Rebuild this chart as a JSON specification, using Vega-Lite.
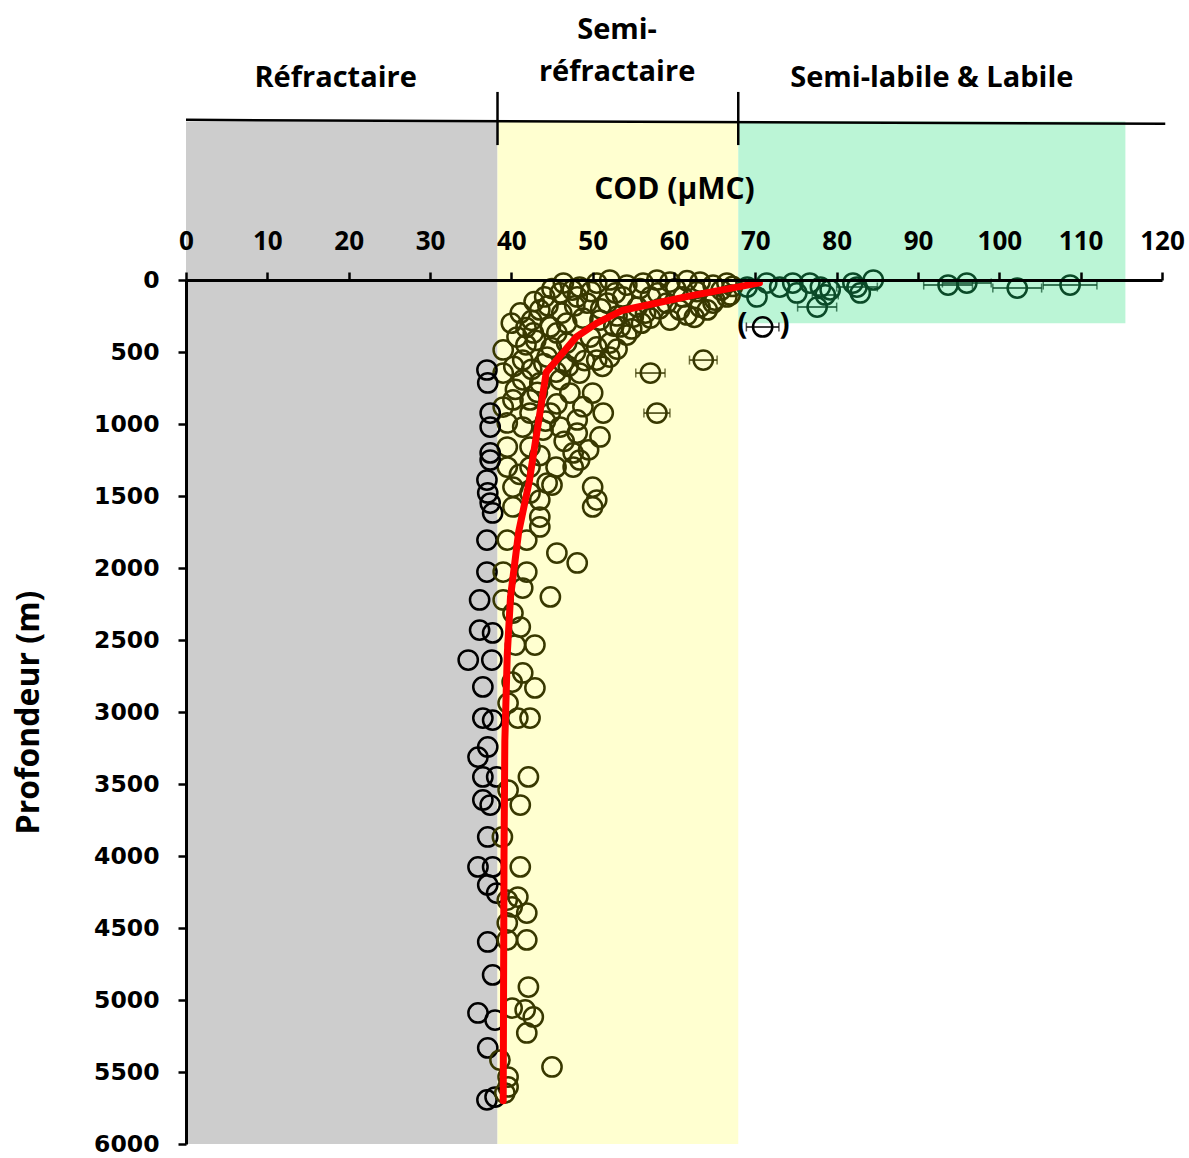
{
  "$schema": "https://vega.github.io/schema/vega-lite/v6.json",
  "width": 976,
  "height": 864,
  "autosize": {"type": "none"},
  "padding": {"left": 186, "top": 280, "right": 27, "bottom": 14},
  "config": {
    "view": {"stroke": null}
  },
  "datasets": {
    "zones": [
      {"x0": 0, "x1": 38.3, "d0": -1100, "d1": 6000, "zone": "R"},
      {"x0": 38.3, "x1": 67.9, "d0": -1100, "d1": 6000, "zone": "S"},
      {"x0": 67.9, "x1": 115.5, "d0": -1100, "d1": 300, "zone": "L"}
    ],
    "header": [
      {"x0": 0, "x1": 120.4, "d0": -1112, "d1": -1085},
      {"x0": 38.3, "x1": 38.3, "d0": -1306, "d1": -937},
      {"x0": 67.9, "x1": 67.9, "d0": -1306, "d1": -937}
    ],
    "labels": [
      {"x": 18.4, "d": -1403, "t": "Réfractaire"},
      {"x": 53.0, "d": -1736, "t": "Semi-"},
      {"x": 53.0, "d": -1444, "t": "réfractaire"},
      {"x": 91.7, "d": -1403, "t": "Semi-labile & Labile"}
    ],
    "parens": [
      {"x": 68.4, "d": 313, "t": "("},
      {"x": 73.6, "d": 313, "t": ")"}
    ],
    "fit": [
      {"i": 1, "x": 70.5, "d": 20},
      {"i": 2, "x": 62.0, "d": 110},
      {"i": 3, "x": 53.7, "d": 210},
      {"i": 4, "x": 50.5, "d": 300},
      {"i": 5, "x": 48.0, "d": 395},
      {"i": 6, "x": 44.3, "d": 640},
      {"i": 7, "x": 43.3, "d": 1000},
      {"i": 8, "x": 42.2, "d": 1400},
      {"i": 9, "x": 40.9, "d": 1750},
      {"i": 10, "x": 39.9, "d": 2200},
      {"i": 11, "x": 39.5, "d": 2600},
      {"i": 12, "x": 39.2, "d": 3200},
      {"i": 13, "x": 39.1, "d": 4000},
      {"i": 14, "x": 39.0, "d": 5700}
    ],
    "err": [
      {"x": 57.1, "d": 646, "lo": 55.3, "hi": 58.9, "zone": "S"},
      {"x": 63.6, "d": 556, "lo": 61.9, "hi": 65.3, "zone": "S"},
      {"x": 57.9, "d": 924, "lo": 56.3, "hi": 59.5, "zone": "S"},
      {"x": 70.9, "d": 326, "lo": 68.9, "hi": 72.9, "zone": "X"},
      {"x": 77.6, "d": 188, "lo": 75.2, "hi": 80.0, "zone": "L"},
      {"x": 82.5, "d": 49, "lo": 80.0, "hi": 85.0, "zone": "L"},
      {"x": 78.6, "d": 104, "lo": 77.0, "hi": 80.2, "zone": "L"},
      {"x": 93.7, "d": 35, "lo": 90.7, "hi": 96.7, "zone": "L"},
      {"x": 96.0, "d": 21, "lo": 93.0, "hi": 99.0, "zone": "L"},
      {"x": 102.2, "d": 56, "lo": 99.2, "hi": 105.2, "zone": "L"},
      {"x": 108.7, "d": 35, "lo": 105.4, "hi": 112.0, "zone": "L"}
    ],
    "pts": [
      {"x": 46.4, "d": 21, "zone": "S"}, {"x": 48.4, "d": 49, "zone": "S"}, {"x": 50.5, "d": 21, "zone": "S"},
      {"x": 52.1, "d": 0, "zone": "S"}, {"x": 54.2, "d": 35, "zone": "S"}, {"x": 56.2, "d": 21, "zone": "S"},
      {"x": 57.9, "d": 0, "zone": "S"}, {"x": 59.5, "d": 14, "zone": "S"}, {"x": 61.6, "d": 5, "zone": "S"},
      {"x": 63.2, "d": 14, "zone": "S"}, {"x": 64.8, "d": 35, "zone": "S"}, {"x": 66.5, "d": 21, "zone": "S"},
      {"x": 45.0, "d": 60, "zone": "S"}, {"x": 47.5, "d": 70, "zone": "S"}, {"x": 60.2, "d": 60, "zone": "S"},
      {"x": 62.8, "d": 80, "zone": "S"}, {"x": 65.8, "d": 70, "zone": "S"}, {"x": 67.2, "d": 45, "zone": "S"},
      {"x": 58.0, "d": 90, "zone": "S"}, {"x": 55.8, "d": 60, "zone": "S"}, {"x": 52.8, "d": 90, "zone": "S"},
      {"x": 49.8, "d": 80, "zone": "S"},
      {"x": 44.1, "d": 118, "zone": "S"}, {"x": 46.0, "d": 90, "zone": "S"}, {"x": 48.1, "d": 118, "zone": "S"},
      {"x": 49.3, "d": 160, "zone": "S"}, {"x": 51.8, "d": 160, "zone": "S"}, {"x": 53.7, "d": 118, "zone": "S"},
      {"x": 55.5, "d": 188, "zone": "S"}, {"x": 57.1, "d": 118, "zone": "S"}, {"x": 59.1, "d": 160, "zone": "S"},
      {"x": 61.1, "d": 118, "zone": "S"}, {"x": 63.2, "d": 188, "zone": "S"}, {"x": 64.8, "d": 160, "zone": "S"},
      {"x": 66.5, "d": 118, "zone": "S"}, {"x": 60.7, "d": 208, "zone": "S"}, {"x": 65.0, "d": 139, "zone": "S"},
      {"x": 66.9, "d": 104, "zone": "S"}, {"x": 44.5, "d": 180, "zone": "S"}, {"x": 42.5, "d": 280, "zone": "S"},
      {"x": 56.5, "d": 230, "zone": "S"}, {"x": 62.5, "d": 260, "zone": "S"},
      {"x": 41.1, "d": 229, "zone": "S"}, {"x": 43.5, "d": 208, "zone": "S"}, {"x": 44.8, "d": 326, "zone": "S"},
      {"x": 46.8, "d": 299, "zone": "S"}, {"x": 48.8, "d": 264, "zone": "S"}, {"x": 50.9, "d": 278, "zone": "S"},
      {"x": 53.4, "d": 326, "zone": "S"}, {"x": 55.0, "d": 257, "zone": "S"}, {"x": 57.1, "d": 264, "zone": "S"},
      {"x": 59.5, "d": 278, "zone": "S"}, {"x": 61.6, "d": 243, "zone": "S"}, {"x": 64.1, "d": 208, "zone": "S"},
      {"x": 40.7, "d": 396, "zone": "S"}, {"x": 42.7, "d": 368, "zone": "S"}, {"x": 45.6, "d": 368, "zone": "S"},
      {"x": 46.8, "d": 438, "zone": "S"}, {"x": 49.7, "d": 396, "zone": "S"}, {"x": 52.1, "d": 438, "zone": "S"},
      {"x": 54.2, "d": 382, "zone": "S"}, {"x": 50.5, "d": 465, "zone": "S"},
      {"x": 40.0, "d": 300, "zone": "S"}, {"x": 41.8, "d": 330, "zone": "S"}, {"x": 43.0, "d": 420, "zone": "S"},
      {"x": 44.9, "d": 470, "zone": "S"}, {"x": 47.9, "d": 500, "zone": "S"}, {"x": 49.0, "d": 560, "zone": "S"},
      {"x": 51.2, "d": 600, "zone": "S"}, {"x": 53.0, "d": 480, "zone": "S"}, {"x": 40.3, "d": 600, "zone": "S"},
      {"x": 42.5, "d": 620, "zone": "S"}, {"x": 45.5, "d": 640, "zone": "S"}, {"x": 47.0, "d": 600, "zone": "S"},
      {"x": 43.2, "d": 780, "zone": "S"}, {"x": 45.6, "d": 860, "zone": "S"}, {"x": 48.8, "d": 880, "zone": "S"},
      {"x": 44.2, "d": 980, "zone": "S"}, {"x": 46.5, "d": 1120, "zone": "S"}, {"x": 49.5, "d": 1180, "zone": "S"},
      {"x": 45.5, "d": 1300, "zone": "S"}, {"x": 41.0, "d": 1350, "zone": "S"}, {"x": 43.5, "d": 1220, "zone": "S"},
      {"x": 52.6, "d": 320, "zone": "S"}, {"x": 54.8, "d": 340, "zone": "S"}, {"x": 56.0, "d": 300, "zone": "S"},
      {"x": 58.2, "d": 200, "zone": "S"}, {"x": 53.0, "d": 250, "zone": "S"}, {"x": 51.0, "d": 200, "zone": "S"},
      {"x": 46.2, "d": 230, "zone": "S"}, {"x": 47.8, "d": 180, "zone": "S"}, {"x": 42.8, "d": 150, "zone": "S"},
      {"x": 41.8, "d": 450, "zone": "S"}, {"x": 44.0, "d": 580, "zone": "S"}, {"x": 40.5, "d": 760, "zone": "S"},
      {"x": 39.0, "d": 486, "zone": "S"}, {"x": 41.4, "d": 556, "zone": "S"}, {"x": 44.4, "d": 535, "zone": "S"},
      {"x": 46.4, "d": 576, "zone": "S"}, {"x": 48.4, "d": 646, "zone": "S"}, {"x": 50.5, "d": 556, "zone": "S"},
      {"x": 52.1, "d": 535, "zone": "S"}, {"x": 57.1, "d": 646, "zone": "S"}, {"x": 63.6, "d": 556, "zone": "S"},
      {"x": 39.0, "d": 646, "zone": "S"}, {"x": 41.4, "d": 694, "zone": "S"}, {"x": 43.5, "d": 715, "zone": "S"},
      {"x": 46.0, "d": 694, "zone": "S"}, {"x": 47.2, "d": 785, "zone": "S"}, {"x": 42.3, "d": 833, "zone": "S"},
      {"x": 40.2, "d": 833, "zone": "S"}, {"x": 50.0, "d": 785, "zone": "S"},
      {"x": 39.0, "d": 882, "zone": "S"}, {"x": 42.3, "d": 924, "zone": "S"}, {"x": 44.8, "d": 924, "zone": "S"},
      {"x": 48.1, "d": 972, "zone": "S"}, {"x": 51.3, "d": 924, "zone": "S"}, {"x": 57.9, "d": 924, "zone": "S"},
      {"x": 39.5, "d": 993, "zone": "S"}, {"x": 41.4, "d": 1021, "zone": "S"}, {"x": 43.9, "d": 1042, "zone": "S"},
      {"x": 46.0, "d": 1021, "zone": "S"}, {"x": 48.1, "d": 1063, "zone": "S"}, {"x": 50.9, "d": 1090, "zone": "S"},
      {"x": 39.5, "d": 1160, "zone": "S"}, {"x": 42.3, "d": 1160, "zone": "S"}, {"x": 47.6, "d": 1201, "zone": "S"},
      {"x": 48.4, "d": 1250, "zone": "S"}, {"x": 39.5, "d": 1299, "zone": "S"}, {"x": 42.3, "d": 1299, "zone": "S"},
      {"x": 47.6, "d": 1299, "zone": "S"}, {"x": 40.2, "d": 1438, "zone": "S"}, {"x": 44.4, "d": 1410, "zone": "S"},
      {"x": 42.3, "d": 1479, "zone": "S"}, {"x": 50.0, "d": 1438, "zone": "S"}, {"x": 50.5, "d": 1528, "zone": "S"},
      {"x": 50.0, "d": 1576, "zone": "S"}, {"x": 40.2, "d": 1576, "zone": "S"}, {"x": 45.0, "d": 1424, "zone": "S"},
      {"x": 43.5, "d": 1528, "zone": "S"},
      {"x": 37.0, "d": 625, "zone": "R"}, {"x": 37.1, "d": 715, "zone": "R"}, {"x": 37.4, "d": 924, "zone": "R"},
      {"x": 37.4, "d": 1021, "zone": "R"}, {"x": 37.4, "d": 1201, "zone": "R"}, {"x": 37.4, "d": 1250, "zone": "R"},
      {"x": 37.0, "d": 1389, "zone": "R"}, {"x": 37.1, "d": 1479, "zone": "R"},
      {"x": 37.4, "d": 1549, "zone": "R"}, {"x": 37.7, "d": 1618, "zone": "R"}, {"x": 43.5, "d": 1646, "zone": "S"},
      {"x": 43.5, "d": 1715, "zone": "S"}, {"x": 37.0, "d": 1806, "zone": "R"}, {"x": 39.5, "d": 1806, "zone": "S"},
      {"x": 41.9, "d": 1806, "zone": "S"}, {"x": 45.6, "d": 1896, "zone": "S"}, {"x": 48.1, "d": 1965, "zone": "S"},
      {"x": 37.0, "d": 2028, "zone": "R"}, {"x": 39.0, "d": 2028, "zone": "S"}, {"x": 41.9, "d": 2028, "zone": "S"},
      {"x": 41.4, "d": 2139, "zone": "S"}, {"x": 36.1, "d": 2222, "zone": "R"}, {"x": 39.0, "d": 2222, "zone": "S"},
      {"x": 44.8, "d": 2201, "zone": "S"}, {"x": 40.2, "d": 2313, "zone": "S"}, {"x": 41.1, "d": 2410, "zone": "S"},
      {"x": 36.1, "d": 2431, "zone": "R"}, {"x": 37.7, "d": 2451, "zone": "R"}, {"x": 40.5, "d": 2535, "zone": "S"},
      {"x": 42.9, "d": 2535, "zone": "S"}, {"x": 34.7, "d": 2639, "zone": "R"}, {"x": 37.6, "d": 2639, "zone": "R"},
      {"x": 41.4, "d": 2729, "zone": "S"}, {"x": 40.1, "d": 2792, "zone": "S"}, {"x": 42.9, "d": 2833, "zone": "S"},
      {"x": 36.5, "d": 2826, "zone": "R"}, {"x": 39.6, "d": 2938, "zone": "S"}, {"x": 36.5, "d": 3042, "zone": "R"},
      {"x": 40.8, "d": 3042, "zone": "S"}, {"x": 42.3, "d": 3042, "zone": "S"}, {"x": 37.7, "d": 3056, "zone": "R"},
      {"x": 37.1, "d": 3243, "zone": "R"}, {"x": 35.9, "d": 3313, "zone": "R"}, {"x": 36.5, "d": 3451, "zone": "R"},
      {"x": 38.2, "d": 3451, "zone": "R"}, {"x": 42.1, "d": 3451, "zone": "S"}, {"x": 39.6, "d": 3542, "zone": "S"},
      {"x": 36.5, "d": 3611, "zone": "R"}, {"x": 37.4, "d": 3646, "zone": "R"}, {"x": 41.1, "d": 3646, "zone": "S"},
      {"x": 37.1, "d": 3868, "zone": "R"}, {"x": 38.9, "d": 3868, "zone": "S"}, {"x": 35.9, "d": 4076, "zone": "R"},
      {"x": 37.7, "d": 4076, "zone": "R"}, {"x": 41.1, "d": 4076, "zone": "S"}, {"x": 37.1, "d": 4201, "zone": "R"},
      {"x": 38.2, "d": 4257, "zone": "R"}, {"x": 39.5, "d": 4306, "zone": "S"}, {"x": 40.8, "d": 4285, "zone": "S"},
      {"x": 41.9, "d": 4396, "zone": "S"}, {"x": 40.1, "d": 4354, "zone": "S"}, {"x": 39.5, "d": 4465, "zone": "S"},
      {"x": 37.1, "d": 4597, "zone": "R"}, {"x": 39.5, "d": 4583, "zone": "S"}, {"x": 41.9, "d": 4583, "zone": "S"},
      {"x": 37.7, "d": 4826, "zone": "R"}, {"x": 42.1, "d": 4910, "zone": "S"}, {"x": 40.1, "d": 5056, "zone": "S"},
      {"x": 41.7, "d": 5069, "zone": "S"}, {"x": 35.9, "d": 5090, "zone": "R"}, {"x": 38.0, "d": 5139, "zone": "R"},
      {"x": 42.7, "d": 5118, "zone": "S"}, {"x": 41.9, "d": 5229, "zone": "S"}, {"x": 37.1, "d": 5333, "zone": "R"},
      {"x": 38.6, "d": 5417, "zone": "S"}, {"x": 45.0, "d": 5465, "zone": "S"}, {"x": 39.6, "d": 5535, "zone": "S"},
      {"x": 39.6, "d": 5604, "zone": "S"}, {"x": 37.0, "d": 5694, "zone": "R"}, {"x": 38.0, "d": 5674, "zone": "R"},
      {"x": 39.2, "d": 5646, "zone": "S"},
      {"x": 69.0, "d": 49, "zone": "L"}, {"x": 70.2, "d": 118, "zone": "L"}, {"x": 71.4, "d": 21, "zone": "L"},
      {"x": 73.0, "d": 49, "zone": "L"}, {"x": 74.6, "d": 21, "zone": "L"}, {"x": 75.1, "d": 90, "zone": "L"},
      {"x": 76.7, "d": 21, "zone": "L"}, {"x": 77.6, "d": 188, "zone": "L"}, {"x": 78.0, "d": 49, "zone": "L"},
      {"x": 78.6, "d": 104, "zone": "L"}, {"x": 79.2, "d": 69, "zone": "L"}, {"x": 82.0, "d": 21, "zone": "L"},
      {"x": 82.5, "d": 49, "zone": "L"}, {"x": 82.9, "d": 90, "zone": "L"}, {"x": 84.5, "d": 0, "zone": "L"},
      {"x": 93.7, "d": 35, "zone": "L"}, {"x": 96.0, "d": 21, "zone": "L"}, {"x": 102.2, "d": 56, "zone": "L"},
      {"x": 108.7, "d": 35, "zone": "L"},
      {"x": 70.9, "d": 326, "zone": "X"}
    ]
  },
  "layer": [
    {
      "data": {"name": "zones"},
      "mark": {"type": "rect"},
      "encoding": {
        "x": {
          "field": "x0", "type": "quantitative",
          "scale": {"domain": [0, 120], "nice": false, "zero": false},
          "title": "COD (µMC)",
          "axis": {
            "orient": "top", "zindex": 2, "values": [0, 10, 20, 30, 40, 50, 60, 70, 80, 90, 100, 110, 120],
            "title": "COD (µMC)", "titleFont": "Open Sans", "titleFontWeight": "bold", "titleFontSize": 30, "titleColor": "#000000", "titlePadding": 24,
            "labelFont": "Open Sans", "labelFontWeight": "bold", "labelFontSize": 26, "labelColor": "#000000", "labelPadding": 18,
            "domainColor": "#000000", "domainWidth": 3, "tickColor": "#000000", "tickWidth": 2.5, "tickSize": 8, "grid": false, "labelFlush": false, "labelOverlap": false
          }
        },
        "x2": {"field": "x1"},
        "y": {
          "field": "d0", "type": "quantitative",
          "scale": {"domain": [0, 6000], "reverse": true, "nice": false, "zero": false},
          "title": "Profondeur (m)",
          "axis": {
            "orient": "left", "zindex": 2, "format": "d", "values": [0, 500, 1000, 1500, 2000, 2500, 3000, 3500, 4000, 4500, 5000, 5500, 6000],
            "title": "Profondeur (m)", "titleFont": "Open Sans", "titleFontWeight": "bold", "titleFontSize": 32, "titleColor": "#000000", "titlePadding": 48,
            "labelFont": "DejaVu Sans", "labelFontWeight": "bold", "labelFontSize": 23.5, "labelColor": "#000000", "labelPadding": 19,
            "domainColor": "#000000", "domainWidth": 3, "tickColor": "#000000", "tickWidth": 2.5, "tickSize": 8, "grid": false, "labelFlush": false, "labelOverlap": false
          }
        },
        "y2": {"field": "d1"},
        "fill": {"field": "zone", "type": "nominal", "scale": {"domain": ["R", "S", "L"], "range": ["#cdcdcd", "#ffffd0", "#bbf5d6"]}, "legend": null}
      }
    },
    {
      "data": {"name": "header"},
      "mark": {"type": "rule", "color": "#000000", "strokeWidth": 2.5},
      "encoding": {
        "x": {"field": "x0", "type": "quantitative", "title": "COD (µMC)"},
        "x2": {"field": "x1"},
        "y": {"field": "d0", "type": "quantitative", "title": "Profondeur (m)"},
        "y2": {"field": "d1"}
      }
    },
    {
      "data": {"name": "labels"},
      "mark": {"type": "text", "font": "Open Sans", "fontWeight": "bold", "fontSize": 29, "align": "center", "baseline": "middle", "color": "#000000"},
      "encoding": {
        "x": {"field": "x", "type": "quantitative", "title": "COD (µMC)"},
        "y": {"field": "d", "type": "quantitative", "title": "Profondeur (m)"},
        "text": {"field": "t"}
      }
    },
    {
      "data": {"name": "err"},
      "mark": {"type": "errorbar", "ticks": {"size": 9, "thickness": 1.5}, "thickness": 1.5},
      "encoding": {
        "x": {"field": "lo", "type": "quantitative", "title": "COD (µMC)"},
        "x2": {"field": "hi"},
        "y": {"field": "d", "type": "quantitative", "title": "Profondeur (m)"},
        "color": {"field": "zone", "type": "nominal", "scale": {"domain": ["R", "S", "L", "X"], "range": ["#000000", "#383800", "#0a4a28", "#000000"]}, "legend": null}
      }
    },
    {
      "data": {"name": "pts"},
      "mark": {"type": "point", "shape": "circle", "filled": false, "size": 370, "strokeWidth": 2.5, "opacity": 1},
      "encoding": {
        "x": {"field": "x", "type": "quantitative", "title": "COD (µMC)"},
        "y": {"field": "d", "type": "quantitative", "title": "Profondeur (m)"},
        "color": {"field": "zone", "type": "nominal", "legend": null}
      }
    },
    {
      "data": {"name": "fit"},
      "mark": {"type": "line", "color": "#ff0000", "strokeWidth": 7, "strokeCap": "round", "strokeJoin": "round"},
      "encoding": {
        "x": {"field": "x", "type": "quantitative", "title": "COD (µMC)"},
        "y": {"field": "d", "type": "quantitative", "title": "Profondeur (m)"},
        "order": {"field": "i", "type": "quantitative"}
      }
    },
    {
      "data": {"name": "parens"},
      "mark": {"type": "text", "font": "Open Sans", "fontWeight": "bold", "fontSize": 30, "align": "center", "baseline": "middle", "color": "#000000"},
      "encoding": {
        "x": {"field": "x", "type": "quantitative", "title": "COD (µMC)"},
        "y": {"field": "d", "type": "quantitative", "title": "Profondeur (m)"},
        "text": {"field": "t"}
      }
    }
  ]
}
